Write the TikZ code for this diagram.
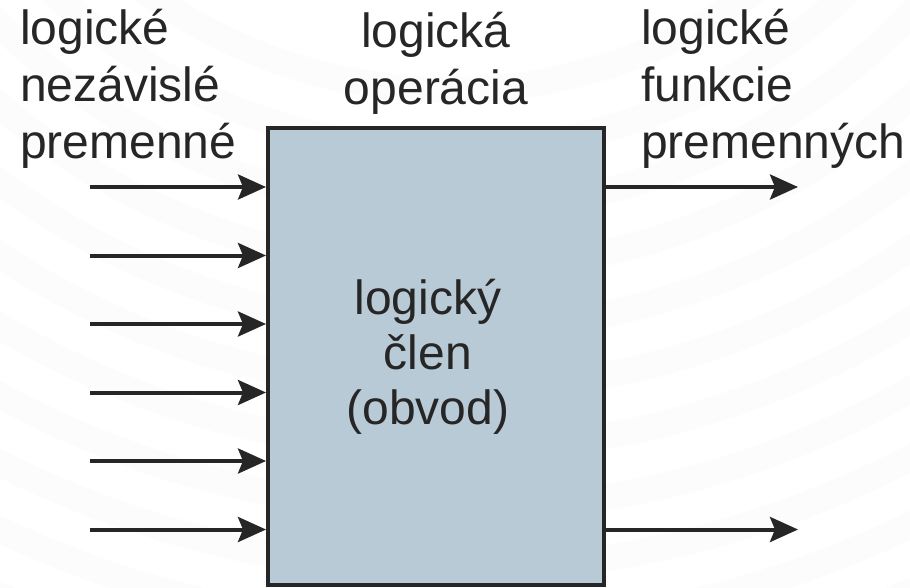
\documentclass[tikz,border=0pt]{standalone}
\usepackage{fontspec}
\setmainfont{Liberation Sans}
\usetikzlibrary{arrows.meta}
\definecolor{ink}{HTML}{262626}
\definecolor{gatefill}{HTML}{B9CAD7}
\tikzset{
  label text/.style={text=ink, inner sep=0pt, font=\fontsize{48}{57}\selectfont},
  signal/.style={draw=ink, line width=4pt,
    -{Stealth[length=28pt, width=25pt, inset=5pt]}},
  gatebox/.style={draw=ink, fill=gatefill, line width=4pt,
    minimum width=336pt, minimum height=457pt, inner sep=0pt},
  gatetext/.style={text=ink, align=center, inner sep=0pt,
    font=\fontsize{48}{55}\selectfont},
}
\begin{document}
\begin{tikzpicture}[x=1pt, y=-1pt]
  \useasboundingbox (0,0) rectangle (910,587);
  \clip (0,0) rectangle (910,587);
  \fill[white] (0,0) rectangle (910,587);
  % faint concentric bands of the backdrop
  \foreach \r in {520,580,...,1300}
    \draw[line width=26pt, black!1.3] (450,-430) circle (\r pt);

  % the logic gate
  \node[gatebox] (gate) at (436,356.5) {};
  \node[gatetext] (gatelabel) at ([xshift=-8pt]gate.center)
    {logický\\člen\\(obvod)};

  % captions (anchored at the baseline of their last line)
  \node[label text, anchor=base west, align=left] (inlabel) at (20,158)
    {logické\\nezávislé\\premenné};
  \node[label text, anchor=base, align=center] (oplabel) at (436,104)
    {logická\\operácia};
  \node[label text, anchor=base west, align=left] (outlabel) at (641,158)
    {logické\\funkcie\\premenných};

  % input signals
  \foreach \k/\yy in {1/187, 2/255.5, 3/324, 4/392.5, 5/461, 6/529.5} {
    \coordinate (in\k) at (90,\yy);
    \draw[signal] (in\k) -- (in\k -| gate.west);
  }
  % output signals
  \coordinate (out1) at (798,187);
  \coordinate (out2) at (798,529.5);
  \draw[signal] (gate.east |- out1) -- (out1);
  \draw[signal] (gate.east |- out2) -- (out2);
\end{tikzpicture}
\end{document}
